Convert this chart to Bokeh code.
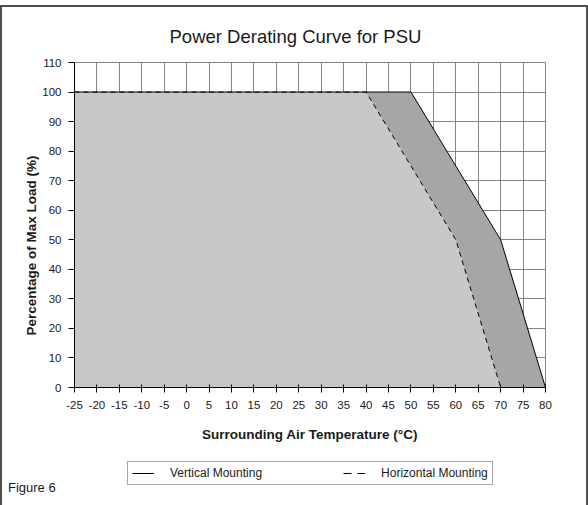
from bokeh.plotting import figure
from bokeh.layouts import column
from bokeh.models import (Range1d, FixedTicker, Legend, LegendItem, Title, Div)
from bokeh.embed import file_html
from bokeh.resources import INLINE

# ---- data ----
x_ticks = [-25, -20, -15, -10, -5, 0, 5, 10, 15, 20, 25, 30, 35, 40, 45, 50, 55, 60, 65, 70, 75, 80]
y_ticks = [0, 10, 20, 30, 40, 50, 60, 70, 80, 90, 100, 110]

temp_vertical = [-25, 50, 70, 80]
load_vertical = [100, 100, 50, 0]

temp_horizontal = [-25, 40, 60, 70]
load_horizontal = [100, 100, 50, 0]

title_text = "Power Derating Curve for PSU"
x_label = "Surrounding Air Temperature (°C)"
y_label = "Percentage of Max Load (%)"
series_names = ["Vertical Mounting", "Horizontal Mounting"]
caption = "Figure 6"

FONT = "Liberation Sans"
TXT = "#1a1a1a"
GRID = "#858585"
DASH = "5 4"
W = 584

# ================= main chart =================
p = figure(width=W, height=440, output_backend="svg", toolbar_location=None,
           x_range=Range1d(x_ticks[0], x_ticks[-1]),
           y_range=Range1d(y_ticks[0], y_ticks[-1]),
           min_border_left=72, min_border_right=41,
           min_border_top=55, min_border_bottom=60)

p.background_fill_color = "white"
p.border_fill_color = "white"
p.outline_line_color = GRID
p.outline_line_width = 1

# title
p.title.text = title_text
p.title.align = "left"
p.title.offset = 95
p.title.standoff = 31
p.title.text_font = FONT
p.title.text_font_size = "18.5px"
p.title.text_font_style = "normal"
p.title.text_color = TXT

# grids
p.xgrid.ticker = FixedTicker(ticks=x_ticks)
p.ygrid.ticker = FixedTicker(ticks=y_ticks)
for g in (p.xgrid, p.ygrid):
    g.grid_line_color = GRID
    g.grid_line_width = 1
    g.grid_line_alpha = 1.0

# axes
p.xaxis.ticker = FixedTicker(ticks=x_ticks)
p.yaxis.ticker = FixedTicker(ticks=y_ticks)
p.xaxis.major_label_overrides = {t: str(t) for t in x_ticks}
p.yaxis.major_label_overrides = {t: str(t) for t in y_ticks}
for ax in (p.xaxis, p.yaxis):
    ax.axis_line_color = "black"
    ax.axis_line_width = 1
    ax.major_tick_line_color = "black"
    ax.minor_tick_line_color = None
    ax.major_label_text_font = FONT
    ax.major_label_text_font_size = "11.5px"
    ax.major_label_text_color = TXT
p.xaxis.major_tick_in = 3
p.xaxis.major_tick_out = 5
p.xaxis.major_label_standoff = 8
p.yaxis.major_tick_in = 0
p.yaxis.major_tick_out = 6
p.yaxis.major_label_standoff = 7

p.xaxis.axis_label = x_label
p.xaxis.axis_label_standoff = 15
p.xaxis.axis_label_text_font = FONT
p.xaxis.axis_label_text_font_size = "13.5px"
p.xaxis.axis_label_text_font_style = "bold"
p.xaxis.axis_label_text_color = TXT

# y label as a left-side title (allows an offset along the axis)
ylab = Title(text=y_label, align="left", offset=52, standoff=2,
             text_font=FONT, text_font_size="13.5px", text_font_style="bold",
             text_color=TXT)
p.add_layout(ylab, "left")

# areas
light_x = [temp_horizontal[0]] + temp_horizontal
light_y = [0] + load_horizontal
dark_x = temp_vertical[1:] + temp_horizontal[1:][::-1]
dark_y = load_vertical[1:] + load_horizontal[1:][::-1]
p.patch(light_x, light_y, fill_color="#c8c8c8", line_color=None)
p.patch(dark_x, dark_y, fill_color="#a6a6a6", line_color=None)

# lines
p.line(temp_horizontal, load_horizontal, line_color="black", line_width=1, line_dash=DASH)
p.line(temp_vertical, load_vertical, line_color="black", line_width=1)

# ================= legend strip =================
p2 = figure(width=W, height=53, output_backend="svg", toolbar_location=None,
            x_range=Range1d(1000, 1001), y_range=Range1d(1000, 1001),
            x_axis_location=None, y_axis_location=None,
            min_border_left=0, min_border_right=0, min_border_top=0, min_border_bottom=0)
p2.grid.visible = False
p2.outline_line_color = None
p2.background_fill_color = "white"
p2.border_fill_color = "white"

# same series drawn here (outside this strip's ranges) only to feed the legend
l_v = p2.line(temp_vertical, load_vertical, line_color="black", line_width=1)
l_h = p2.line(temp_horizontal, load_horizontal, line_color="black", line_width=1,
              line_dash="8 6")

legend = Legend(items=[LegendItem(label=series_names[0], renderers=[l_v]),
                       LegendItem(label=series_names[1], renderers=[l_h])],
                location=(53, 15), orientation="horizontal",
                padding=4, margin=0, spacing=81, label_standoff=16,
                glyph_width=22, glyph_height=12, label_height=12,
                label_text_font=FONT, label_text_font_size="12px",
                label_text_color=TXT,
                border_line_color="#505050", border_line_width=1,
                background_fill_color="white", background_fill_alpha=1.0)
p2.add_layout(legend)

cap = Div(text=caption, width=120, height=20,
          styles={"margin-top": "-20px", "padding-left": "1px",
                  "font-family": FONT, "font-size": "13px", "color": TXT,
                  "line-height": "15px"})

layout = column(p, p2, cap, spacing=0,
                styles={"margin-top": "5px", "border": "2px solid #505050"})

open("out.html", "w").write(file_html(layout, INLINE))
